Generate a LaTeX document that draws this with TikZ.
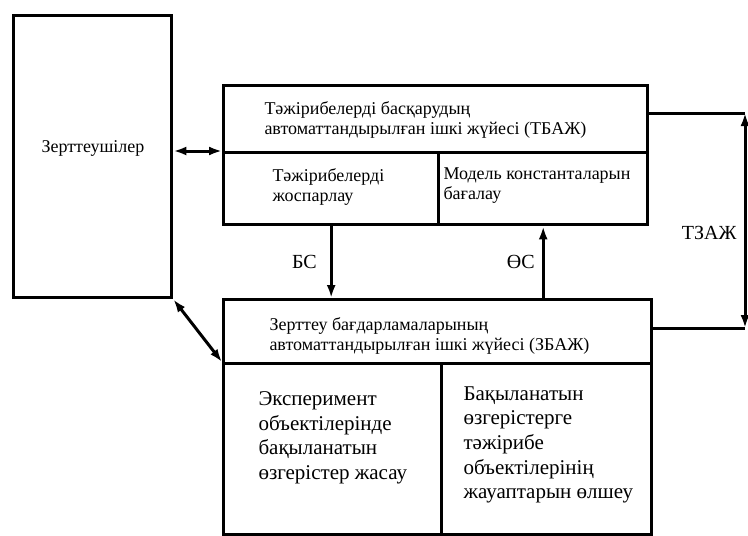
\documentclass[tikz,border=0pt]{standalone}
\usepackage{fontspec}
\setmainfont{Liberation Serif}
\usetikzlibrary{positioning,arrows.meta}
\tikzstyle{block} = [draw, rectangle, line width=3.4pt, anchor=north west, inner sep=0pt]
\tikzstyle{txt} = [align=left, inner sep=0pt, font=\fontsize{18}{20.5}\selectfont]
\tikzstyle{bigtxt} = [align=left, inner sep=0pt, font=\fontsize{21}{24.6}\selectfont]
\tikzstyle{lbl} = [inner sep=0pt, font=\fontsize{20}{24}\selectfont]

\begin{document}
\begin{tikzpicture}[auto, x=1pt, y=-1pt, >={Latex[length=13pt,width=9pt]}, line width=3pt]

\useasboundingbox (0,0) rectangle (748,536);

\node [block, minimum width=158pt, minimum height=282pt] (res) at (12,14) {};
\node [txt] (restext) at (93,148) {Зерттеушілер};

\node [block, minimum width=424pt, minimum height=67pt] (tbh) at (222,84) {};
\node [block, minimum width=215pt, minimum height=72pt] (plan) at (222,151) {};
\node [block, minimum width=209pt, minimum height=72pt] (est) at (437,151) {};

\node [block, minimum width=428pt, minimum height=64pt] (zbh) at (222,298) {};
\node [block, minimum width=218pt, minimum height=171pt] (exp) at (222,362) {};
\node [block, minimum width=210pt, minimum height=171pt] (meas) at (440,362) {};

\node [txt, below right=16pt and 41pt of tbh.north west] (tbhtext) {Тәжірибелерді басқарудың\\автоматтандырылған ішкі жүйесі (ТБАЖ)};
\node [txt, below right=16pt and 49pt of plan.north west] (plantext) {Тәжірибелерді\\жоспарлау};
\node [txt, below right=15pt and 5pt of est.north west] (esttext) {Модель константаларын\\бағалау};
\node [txt, below right=18pt and 46pt of zbh.north west] (zbhtext) {Зерттеу бағдарламаларының\\автоматтандырылған ішкі жүйесі (ЗБАЖ)};
\node [bigtxt, below right=28pt and 35pt of exp.north west] (exptext) {Эксперимент\\объектілерінде\\бақыланатын\\өзгерістер жасау};
\node [bigtxt, below right=23pt and 22pt of meas.north west] (meastext) {Бақыланатын\\өзгерістерге\\тәжірибе\\объектілерінің\\жауаптарын өлшеу};

\coordinate (tzt) at (745,113);
\coordinate (tzb) at (745,328);

\draw [<->] (res.east |- plan.north west) -- (plan.north west);
\draw [<->] (res.south east) -- (exp.north west);
\draw [->] (plan.south) -- node [lbl, left=13pt] {БС} (plan.south |- zbh.north);
\draw [->] (est.south |- zbh.north) -- node [lbl, left=7pt] {ӨС} (est.south);
\draw (tbh.east |- tzt) -- (tzt);
\draw (zbh.east |- tzb) -- (tzb);
\draw [<->] (tzt) -- node [lbl, left=7pt, pos=0.56] {ТЗАЖ} (tzb);

\end{tikzpicture}
\end{document}
